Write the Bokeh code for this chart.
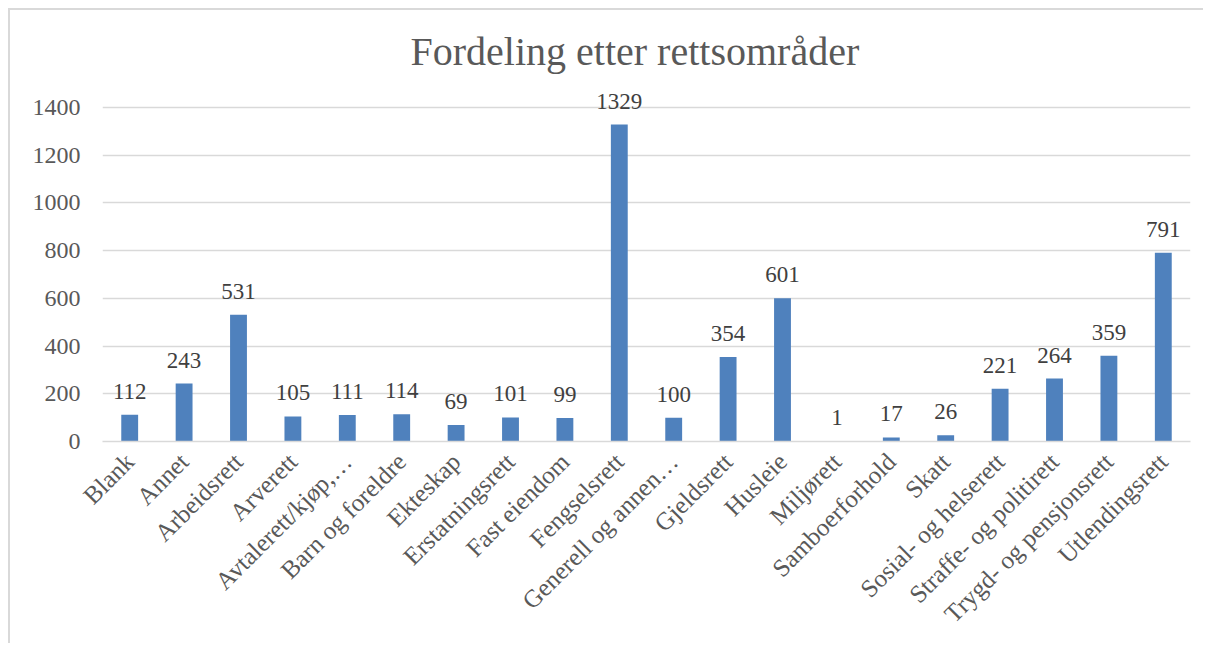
from bokeh.plotting import figure
from bokeh.models import ColumnDataSource, Range1d, FixedTicker, Title, LabelSet
from bokeh.embed import file_html
from bokeh.resources import INLINE
import math

categories = ["Blank", "Annet", "Arbeidsrett", "Arverett", "Avtalerett/kjøp,…",
              "Barn og foreldre", "Ekteskap", "Erstatningsrett", "Fast eiendom",
              "Fengselsrett", "Generell og annen…", "Gjeldsrett", "Husleie",
              "Miljørett", "Samboerforhold", "Skatt", "Sosial- og helserett",
              "Straffe- og politirett", "Trygd- og pensjonsrett", "Utlendingsrett"]
counts = [112, 243, 531, 105, 111, 114, 69, 101, 99, 1329, 100, 354, 601,
          1, 17, 26, 221, 264, 359, 791]
y_ticks = [0, 200, 400, 600, 800, 1000, 1200, 1400]
title_text = "Fordeling etter rettsområder"

FONT = "Liberation Serif"

src = ColumnDataSource(dict(cat=categories, n=counts, lab=[str(v) for v in counts]))

# y range extends a little above the top gridline so the tallest data label is not clipped
p = figure(x_range=categories, y_range=Range1d(0, 1480), width=1195, height=635,
           output_backend="svg", toolbar_location=None,
           min_border_left=92, min_border_right=15, min_border_top=78, min_border_bottom=204,
           styles={"margin-left": "8px", "margin-top": "8px",
                   "border-top": "2px solid #d9d9d9", "border-left": "2px solid #d9d9d9"})
p.outline_line_color = None
p.background_fill_color = "white"
p.border_fill_color = "white"

p.vbar(x="cat", top="n", width=0.31, source=src, fill_color="#4f81bd", line_color=None)
labels = LabelSet(x="cat", y="n", text="lab", source=src, text_align="center",
                  text_baseline="alphabetic", y_offset=16, text_font=FONT,
                  text_font_size="23px", text_color="#404040")
p.add_layout(labels)

t = Title(text=title_text, align="left", offset=308, standoff=30,
          vertical_align="bottom",
          text_font=FONT, text_font_size="40px", text_font_style="normal",
          text_color="#595959")
p.title = t

p.xgrid.grid_line_color = None
p.ygrid.grid_line_color = "#d9d9d9"
p.ygrid.grid_line_width = 1.3

p.yaxis.ticker = FixedTicker(ticks=y_ticks)
p.yaxis.axis_line_color = None
p.yaxis.major_tick_line_color = None
p.yaxis.minor_tick_line_color = None
p.yaxis.major_tick_out = 0
p.yaxis.major_tick_in = 0
p.yaxis.major_label_standoff = 22
p.yaxis.major_label_text_font = FONT
p.yaxis.major_label_text_font_size = "24px"
p.yaxis.major_label_text_color = "#595959"

p.xaxis.axis_line_color = "#d9d9d9"
p.xaxis.axis_line_width = 1.3
p.xaxis.major_tick_line_color = None
p.xaxis.major_tick_out = 0
p.xaxis.major_tick_in = 0
p.xaxis.major_label_orientation = math.pi / 4
p.xaxis.major_label_standoff = 16
p.xaxis.major_label_text_font = FONT
p.xaxis.major_label_text_font_size = "25px"
p.xaxis.major_label_text_color = "#595959"

open("out.html", "w").write(file_html(p, INLINE))
